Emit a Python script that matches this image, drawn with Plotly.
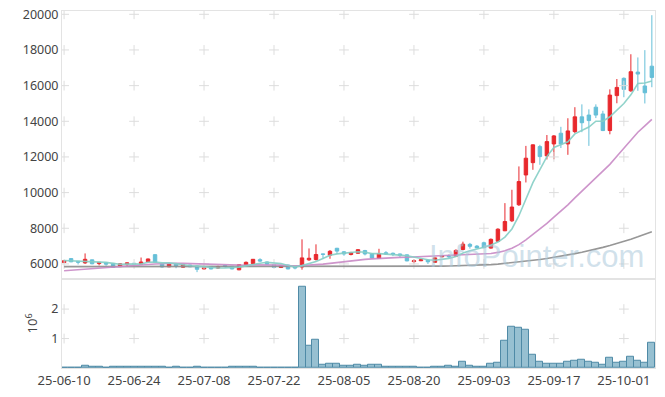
import plotly.graph_objects as go
from plotly.subplots import make_subplots

dates = [
    "25-06-10", "25-06-11", "25-06-12", "25-06-13", "25-06-16", "25-06-17", "25-06-18", "25-06-19", "25-06-20",
    "25-06-23", "25-06-24", "25-06-25", "25-06-26", "25-06-27", "25-06-30",
    "25-07-01", "25-07-02", "25-07-03", "25-07-04", "25-07-07", "25-07-08", "25-07-09", "25-07-10", "25-07-11",
    "25-07-14", "25-07-15", "25-07-16", "25-07-17", "25-07-18", "25-07-21", "25-07-22", "25-07-23", "25-07-24",
    "25-07-25", "25-07-28", "25-07-29", "25-07-30", "25-07-31",
    "25-08-01", "25-08-04", "25-08-05", "25-08-06", "25-08-07", "25-08-08", "25-08-11", "25-08-12", "25-08-13",
    "25-08-14", "25-08-18", "25-08-19", "25-08-20", "25-08-21", "25-08-22", "25-08-25", "25-08-26", "25-08-27",
    "25-08-28", "25-08-29",
    "25-09-01", "25-09-02", "25-09-03", "25-09-04", "25-09-05", "25-09-08", "25-09-09", "25-09-10", "25-09-11",
    "25-09-12", "25-09-15", "25-09-16", "25-09-17", "25-09-18", "25-09-19", "25-09-22", "25-09-23", "25-09-24",
    "25-09-25", "25-09-26", "25-09-29", "25-09-30",
    "25-10-01", "25-10-02", "25-10-10", "25-10-13", "25-10-14",
]

opens = [
    6080, 6300, 6150, 6060, 6230, 6020, 6070, 6030, 5850, 5990,
    6040, 5990, 6120, 6520, 6000, 5840, 6010, 5820, 5940, 5880,
    5720, 5860, 5770, 5910, 5870, 5670, 5950, 6020, 6240, 6110,
    5960, 5800, 5940, 5830, 5830, 6230, 6250, 6560, 6490, 6880,
    6680, 6530, 6600, 6750, 6570, 6310, 6630, 6600, 6560, 6510,
    6130, 6180, 6220, 6090, 6400, 6470, 6430, 6810, 7100, 7000,
    7190, 6890, 7270, 7860, 8420, 9320, 10990, 11680, 12580, 12060,
    12730, 13330, 12730, 13420, 14250, 14350, 14790, 14410, 13480, 15440,
    16410, 15710, 16760, 15980, 17090,
]
highs = [
    6200, 6310, 6160, 6590, 6240, 6100, 6080, 6040, 6030, 6080,
    6060, 6360, 6300, 6540, 6010, 6020, 6020, 5960, 5950, 5890,
    5780, 5870, 5900, 5960, 5880, 5980, 6140, 6270, 6320, 6130,
    6010, 5900, 5950, 5870, 7380, 6870, 7100, 6570, 6780, 6900,
    6720, 6680, 6830, 6790, 6590, 6850, 6720, 6640, 6580, 6530,
    6260, 6280, 6240, 6360, 6490, 6540, 6820, 7250, 7180, 7060,
    7250, 7430, 8000, 9410, 10160, 11470, 12620, 12700, 12680, 13230,
    13230, 13690, 14170, 14790, 14950, 14670, 14950, 14590, 15790, 16370,
    16460, 17760, 17580, 17990, 19950,
]
lows = [
    6050, 6100, 5970, 6000, 5980, 5920, 5900, 5790, 5830, 5860,
    5970, 5970, 6100, 6060, 5800, 5820, 5760, 5800, 5820, 5540,
    5700, 5700, 5730, 5800, 5700, 5650, 5930, 6000, 6110, 5970,
    5770, 5780, 5700, 5700, 5680, 6170, 6190, 6290, 6290, 6560,
    6460, 6480, 6580, 6480, 6300, 6290, 6510, 6440, 6360, 6150,
    6030, 6160, 6000, 6070, 6380, 6320, 6410, 6770, 6860, 6880,
    6880, 6860, 7240, 7840, 8350, 9250, 10570, 11280, 11560, 11860,
    11870, 12500, 12120, 13340, 13390, 12620, 14180, 13450, 13270, 15010,
    15350, 15650, 15710, 15000, 15910,
]
closes = [
    6180, 6120, 6100, 6260, 6010, 6090, 5990, 5810, 6010, 6060,
    6000, 6110, 6280, 6080, 5830, 6000, 5890, 5950, 5840, 5700,
    5770, 5720, 5840, 5860, 5720, 5960, 6090, 6260, 6160, 5990,
    5810, 5880, 5720, 5780, 6340, 6320, 6530, 6540, 6710, 6720,
    6560, 6640, 6800, 6560, 6330, 6570, 6560, 6540, 6480, 6170,
    6180, 6230, 6120, 6340, 6470, 6400, 6760, 7110, 6990, 6900,
    6910, 7380, 7950, 8380, 9190, 10620, 11930, 12680, 12020, 12860,
    13180, 12730, 13460, 14250, 13920, 14040, 14350, 13480, 15470, 15900,
    15790, 16780, 16650, 15600, 16460,
]

# volume in millions of shares
volumes = [
    0, 0, 0, 0.07, 0.03, 0.03, 0, 0.03, 0.03, 0.03,
    0.03, 0.03, 0.03, 0.03, 0.03, 0, 0.03, 0, 0, 0.03,
    0, 0, 0, 0, 0.03, 0.03, 0.03, 0.03, 0, 0,
    0, 0, 0, 0, 2.75, 0.75, 0.95, 0.10, 0.14, 0.14,
    0.07, 0.07, 0.10, 0.07, 0.10, 0.10, 0.03, 0.03, 0.03, 0.03,
    0.03, 0, 0, 0.03, 0.03, 0.07, 0.03, 0.20, 0.07, 0.03,
    0.03, 0.14, 0.17, 0.93, 1.39, 1.36, 1.29, 0.44, 0.20, 0.14,
    0.14, 0.14, 0.20, 0.24, 0.27, 0.20, 0.17, 0.10, 0.34, 0.17,
    0.20, 0.37, 0.24, 0.17, 0.85,
]

ma5 = [
    6190, 6170, 6150, 6150, 6134, 6116, 6090, 6032, 5982, 5992,
    5974, 5998, 6092, 6106, 6060, 6060, 6016, 5950, 5902, 5876,
    5830, 5796, 5774, 5778, 5782, 5820, 5894, 5978, 6038, 6092,
    6062, 6020, 5912, 5836, 5906, 6008, 6138, 6302, 6488, 6564,
    6612, 6634, 6686, 6656, 6578, 6580, 6564, 6512, 6496, 6464,
    6386, 6320, 6236, 6208, 6268, 6312, 6418, 6616, 6746, 6832,
    6934, 7058, 7226, 7504, 7962, 8704, 9614, 10560, 11288, 12022,
    12534, 12694, 12850, 13296, 13508, 13680, 14004, 14008, 14252, 14648,
    14998, 15484, 16118, 16144, 16256,
]
ma20 = [
    5620, 5650, 5690, 5730, 5770, 5800, 5830, 5850, 5870, 5890,
    5910, 5940, 5970, 6000, 6020, 6040, 6040, 6030, 6020, 6016,
    5995, 5975, 5962, 5942, 5928, 5921, 5926, 5949, 5956, 5953,
    5943, 5932, 5904, 5889, 5914, 5930, 5962, 5992, 6035, 6086,
    6126, 6172, 6220, 6255, 6285, 6316, 6339, 6353, 6369, 6378,
    6396, 6414, 6434, 6462, 6468, 6472, 6484, 6512, 6526, 6535,
    6553, 6590, 6647, 6738, 6881, 7084, 7352, 7660, 7936, 8271,
    8621, 8946, 9313, 9708, 10081, 10463, 10842, 11161, 11585, 12035,
    12479, 12949, 13384, 13745, 14108,
]
ma60 = [
    5850, 5850, 5848, 5846, 5845, 5844, 5843, 5842, 5841, 5840,
    5840, 5840, 5840, 5840, 5840, 5840, 5840, 5840, 5840, 5840,
    5840, 5840, 5840, 5840, 5840, 5840, 5840, 5840, 5840, 5840,
    5840, 5840, 5840, 5840, 5840, 5840, 5840, 5840, 5840, 5842,
    5844, 5846, 5848, 5850, 5852, 5854, 5856, 5858, 5860, 5862,
    5864, 5866, 5870, 5874, 5878, 5884, 5890, 5898, 5906, 5916,
    5935, 5960, 5990, 6028, 6070, 6110, 6150, 6200, 6250, 6305,
    6364, 6430, 6500, 6580, 6660, 6740, 6830, 6930, 7030, 7140,
    7260, 7390, 7520, 7660, 7800,
]

price_ticks = [6000, 8000, 10000, 12000, 14000, 16000, 18000, 20000]
price_tick_text = ["6000", "8000", "10000", "12000", "14000", "16000", "18000", "20000"]
vol_ticks = [1, 2]
vol_tick_text = ["1", "2"]
x_tick_dates = ["25-06-10", "25-06-24", "25-07-08", "25-07-22", "25-08-05",
                "25-08-20", "25-09-03", "25-09-17", "25-10-01"]

RED = "#e8292e"
BLUE = "#66bfd8"
GRID = "#dddddd"
AXLINE = "#e3e3e3"
FONT = "Noto Sans"

fig = make_subplots(rows=2, cols=1, shared_xaxes=True, vertical_spacing=0,
                    row_heights=[0.75, 0.25])

fig.add_trace(go.Candlestick(
    x=dates, open=opens, high=highs, low=lows, close=closes,
    increasing=dict(line=dict(color=RED, width=1), fillcolor=RED),
    decreasing=dict(line=dict(color=BLUE, width=1), fillcolor=BLUE),
    whiskerwidth=0, showlegend=False), row=1, col=1)

fig.add_trace(go.Bar(x=dates, y=volumes,
                     marker=dict(color="rgba(140,185,204,0.9)",
                                 line=dict(color="#4f8aa6", width=1)),
                     showlegend=False), row=2, col=1)

# grid crosses
cx, cy = [], []
for d in x_tick_dates:
    for p in price_ticks:
        cx.append(d)
        cy.append(p)
fig.add_trace(go.Scatter(x=cx, y=cy, mode="markers", hoverinfo="skip",
                         marker=dict(symbol="cross-thin", size=7,
                                     line=dict(color=GRID, width=1)),
                         showlegend=False), row=1, col=1)
vx, vy = [], []
for d in x_tick_dates:
    for v in vol_ticks:
        vx.append(d)
        vy.append(v)
fig.add_trace(go.Scatter(x=vx, y=vy, mode="markers", hoverinfo="skip",
                         marker=dict(symbol="cross-thin", size=7,
                                     line=dict(color=GRID, width=1)),
                         showlegend=False), row=2, col=1)

fig.add_trace(go.Scatter(x=dates, y=ma60, mode="lines",
                         line=dict(color="#8c8c8c", width=1.6),
                         opacity=0.9, showlegend=False), row=1, col=1)
fig.add_trace(go.Scatter(x=dates, y=ma20, mode="lines",
                         line=dict(color="#c98ac6", width=1.6),
                         opacity=0.9, showlegend=False), row=1, col=1)
fig.add_trace(go.Scatter(x=dates, y=ma5, mode="lines",
                         line=dict(color="#86cfc6", width=1.6),
                         opacity=0.9, showlegend=False), row=1, col=1)

fig.update_layout(
    width=665, height=397,
    margin=dict(l=62, r=10, t=11, b=29, autoexpand=False),
    paper_bgcolor="white", plot_bgcolor="white",
    font=dict(family=FONT, size=13, color="#444"),
    bargap=0,
    showlegend=False,
    annotations=[dict(
        text="InfoPointer.com", xref="paper", yref="paper",
        x=0.800, y=0.312, xanchor="center", yanchor="middle",
        showarrow=False,
        font=dict(family="Liberation Sans", size=31, color="rgba(170,200,218,0.55)"),
    )],
)

fig.update_xaxes(type="category", categoryorder="array", categoryarray=dates,
                 range=[-0.3, 84.45], automargin=False,
                 showgrid=False, zeroline=False,
                 showline=True, linecolor=AXLINE, linewidth=1, mirror=True,
                 rangeslider=dict(visible=False), ticks="")
fig.update_xaxes(showticklabels=False, row=1, col=1)
fig.update_xaxes(tickmode="array", tickvals=x_tick_dates, ticktext=x_tick_dates,
                 tickangle=0, ticklabeloverflow="allow",
                 showticklabels=True, tickfont=dict(size=13, color="#444"),
                 row=2, col=1)

fig.update_yaxes(range=[5170, 20185], tickmode="array", tickvals=price_ticks,
                 ticktext=price_tick_text, showgrid=False, zeroline=False,
                 showline=True, linecolor=AXLINE, linewidth=1, mirror=True,
                 automargin=False, ticklabeloverflow="allow",
                 ticks="", tickfont=dict(size=12.5, color="#444"), row=1, col=1)
fig.update_yaxes(range=[0, 3.03], tickmode="array", tickvals=vol_ticks,
                 ticktext=vol_tick_text, showgrid=False, zeroline=False,
                 showline=True, linecolor=AXLINE, linewidth=1, mirror=True,
                 automargin=False, ticklabeloverflow="allow",
                 ticks="", tickfont=dict(size=12.5, color="#444"),
                 title=dict(text="10<sup>6</sup>", standoff=10,
                            font=dict(size=13, color="#444")),
                 row=2, col=1)

# remove the default 8px page margin so the figure sits at the window's corner
fig.write_html("out.html",
               config={"displayModeBar": False},
               post_script="document.body.style.margin='0';document.body.style.overflow='hidden';")
